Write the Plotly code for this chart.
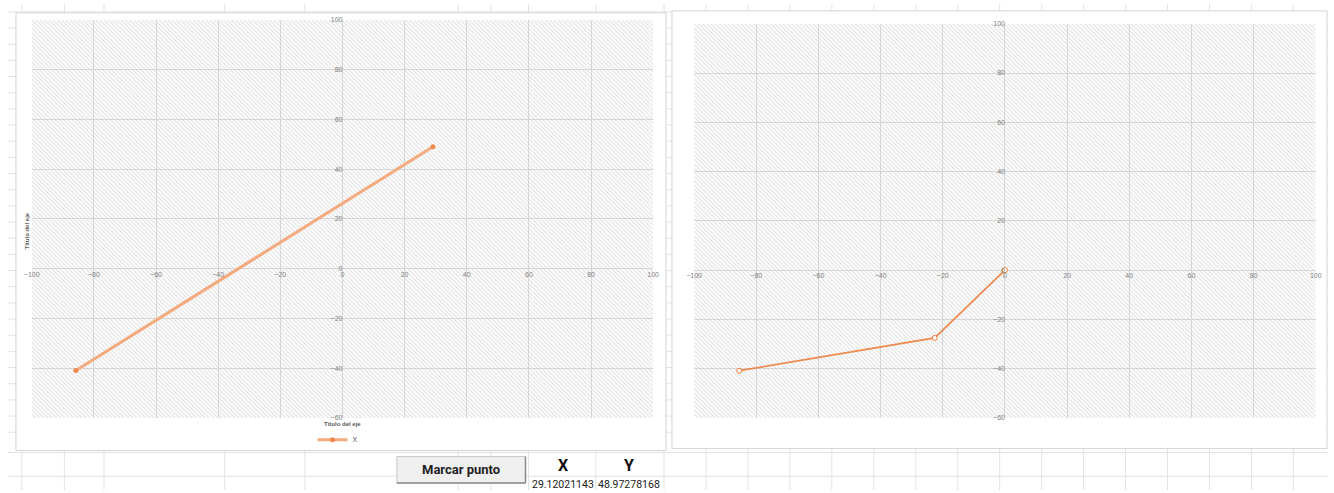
import plotly.graph_objects as go

W, H = 1334, 493

# ---------------- data ----------------
series_name = "X"
left_x = [-85.8, 29.12021143]
left_y = [-40.9, 48.97278168]
right_x = [-85.5, -22.6, 0.0]
right_y = [-40.8, -27.5, 0.0]
x_ticks = [-100, -80, -60, -40, -20, 0, 20, 40, 60, 80, 100]
y_ticks = [-60, -40, -20, 0, 20, 40, 60, 80, 100]
x_range = [-100, 100]
y_range = [-60, 100]
axis_title = "Título del eje"
button_label = "Marcar punto"
cell_headers = ["X", "Y"]
cell_values = [left_x[-1], left_y[-1]]


# ---------------- helpers ----------------
def px(x):
    return x / W


def py(y):
    return 1 - y / H


def frac(v, rng):
    return (v - rng[0]) / (rng[1] - rng[0])


# plot-area boxes in pixels (left, top, right, bottom)
L_box = (24, 16, 652, 420)
R_box = (693.4, 20, 1321.6, 420)


def domains(box):
    l, t, r, b = box
    return [px(l), px(r)], [py(b), py(t)]


Lxd, Lyd = domains(L_box)
Rxd, Ryd = domains(R_box)

GRID = "#d9d9d9"
TICKFONT = dict(family="Liberation Sans, Arial, sans-serif", size=7, color="#808080")
CELL = "#e3e3e3"

fig = go.Figure()

hatch = dict(shape="\\", fgcolor="#c8c8c8", bgcolor="rgba(0,0,0,0)", size=3, solidity=0.4)
rx = [x_range[0], x_range[1], x_range[1], x_range[0], x_range[0]]
ry = [y_range[0], y_range[0], y_range[1], y_range[1], y_range[0]]

for xa, ya in (("x", "y"), ("x2", "y2")):
    fig.add_trace(go.Scatter(
        x=rx, y=ry, xaxis=xa, yaxis=ya, mode="none", fill="toself",
        fillcolor="rgba(0,0,0,0)", fillpattern=hatch,
        hoverinfo="skip", showlegend=False))

fig.add_trace(go.Scatter(
    x=left_x, y=left_y, name=series_name, xaxis="x", yaxis="y",
    mode="lines+markers",
    line=dict(color="#F3AA7E", width=3),
    marker=dict(color="#EE8A4F", size=5),
    showlegend=True))

fig.add_trace(go.Scatter(
    x=right_x, y=right_y, name=series_name, xaxis="x2", yaxis="y2",
    mode="lines+markers",
    line=dict(color="#EE8A50", width=1.75),
    marker=dict(color="white", size=5, line=dict(color="#ED7D31", width=1)),
    showlegend=False))


def xaxis(dom, ydom):
    pos = ydom[0] + frac(0, y_range) * (ydom[1] - ydom[0])
    return dict(domain=dom, range=x_range, anchor="free", position=pos,
                tickvals=x_ticks, showgrid=True, gridcolor=GRID, gridwidth=1,
                zeroline=True, zerolinecolor=GRID, zerolinewidth=1,
                showline=False, ticks="", tickfont=TICKFONT, fixedrange=True)


def yaxis(dom, xdom):
    pos = xdom[0] + frac(0, x_range) * (xdom[1] - xdom[0])
    return dict(domain=dom, range=y_range, anchor="free", position=pos,
                tickvals=y_ticks, showgrid=True, gridcolor=GRID, gridwidth=1,
                zeroline=True, zerolinecolor=GRID, zerolinewidth=1,
                showline=False, ticks="", tickfont=TICKFONT, fixedrange=True)


shapes = []
# spreadsheet cells
cols = [14, 57, 97, 219, 300, 455, 488, 526, 594, 663]
c = 663
while c < W:
    c += 42.4
    cols.append(c)
for cx in cols:
    shapes.append(dict(type="line", xref="paper", yref="paper", layer="below",
                       x0=px(cx), x1=px(cx), y0=0, y1=1,
                       line=dict(color=CELL, width=1)))
rows = []
r = 8
while r < 450:
    rows.append(r)
    r += 16.4
rows += [455, 479]
for ry_ in rows:
    shapes.append(dict(type="line", xref="paper", yref="paper", layer="below",
                       x0=0, x1=1, y0=py(ry_), y1=py(ry_),
                       line=dict(color=CELL, width=1)))
# chart areas
for (l, t, r_, b) in ((8, 9, 665, 453), (671, 7, 1333, 451)):
    shapes.append(dict(type="rect", xref="paper", yref="paper", layer="below",
                       x0=px(l), x1=px(r_), y0=py(b), y1=py(t),
                       fillcolor="white", line=dict(color="#d4d4d4", width=1)))
# button
shapes.append(dict(type="rect", xref="paper", yref="paper", layer="below",
                   x0=px(393), x1=px(523), y0=py(486), y1=py(459),
                   fillcolor="#efefef", line=dict(color="#c8c8c8", width=1)))
shapes.append(dict(type="line", xref="paper", yref="paper", layer="below",
                   x0=px(393), x1=px(523), y0=py(486), y1=py(486),
                   line=dict(color="#8a8a8a", width=1.5)))
shapes.append(dict(type="line", xref="paper", yref="paper", layer="below",
                   x0=px(523), x1=px(523), y0=py(486), y1=py(459),
                   line=dict(color="#8a8a8a", width=1.5)))

NARROW = "Liberation Sans Narrow, Arial Narrow, Roboto, sans-serif"


def note(text, x, y, font, angle=0):
    return dict(text=text, x=px(x), y=py(y), xref="paper", yref="paper",
                xanchor="center", yanchor="middle", showarrow=False,
                textangle=angle, font=font)


TITLEFONT = dict(family="Liberation Sans, Arial", size=6, color="#595959")
annotations = [
    note("<b>" + axis_title + "</b>", 338, 426, TITLEFONT),
    note("<b>" + axis_title + "</b>", 19, 230, TITLEFONT, angle=-90),
    note("<b>" + button_label + "</b>", 458, 472.5,
         dict(family=NARROW, size=13, color="#1f1f1f")),
]
for i, (hdr, val) in enumerate(zip(cell_headers, cell_values)):
    cx = [561, 628][i]
    annotations.append(note("<b>" + hdr + "</b>", cx, 468,
                            dict(family=NARROW, size=16, color="#111111")))
    annotations.append(note(f"{val:.8f}", cx, 487,
                            dict(family=NARROW, size=10.5, color="#222222")))

fig.update_layout(
    width=W, height=H, autosize=False,
    margin=dict(l=0, r=0, t=0, b=0, pad=0),
    paper_bgcolor="white", plot_bgcolor="rgba(0,0,0,0)",
    xaxis=xaxis(Lxd, Lyd), yaxis=yaxis(Lyd, Lxd),
    xaxis2=xaxis(Rxd, Ryd), yaxis2=yaxis(Ryd, Rxd),
    shapes=shapes, annotations=annotations,
    legend=dict(x=px(333), y=py(442), xanchor="center", yanchor="middle",
                orientation="h", bgcolor="rgba(0,0,0,0)",
                font=dict(family="Liberation Sans, Arial", size=7, color="#595959"),
                itemwidth=30),
    showlegend=True,
)

fig.write_html(
    "out.html",
    config={"displayModeBar": False, "responsive": False},
    post_script=(
        "document.documentElement.style.cssText='margin:0;padding:0;overflow:hidden';"
        "document.body.style.cssText='margin:0;padding:0;overflow:hidden';"
        "var gd=document.getElementById('{plot_id}');"
        "gd.style.position='absolute';gd.style.left='0px';gd.style.top='0px';"
    ),
)
